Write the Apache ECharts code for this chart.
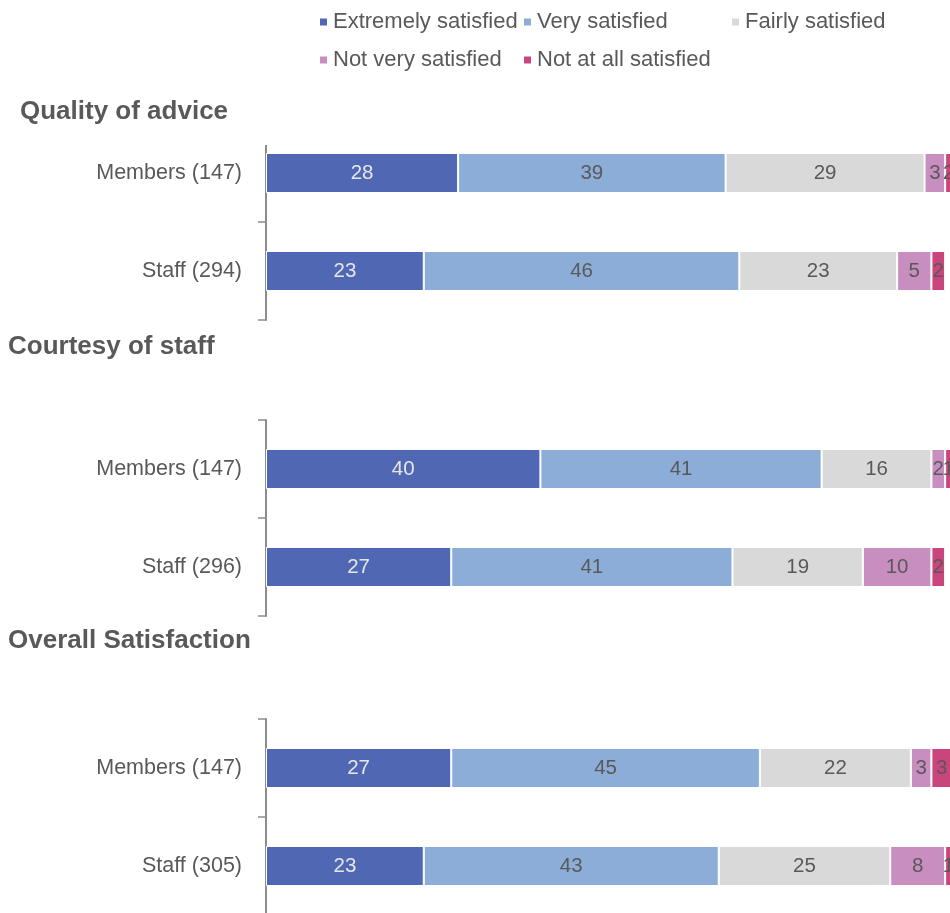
<!DOCTYPE html>
<html>
<head>
<meta charset="utf-8">
<script src="https://cdn.jsdelivr.net/npm/echarts@6/dist/echarts.min.js"></script>
<style>html,body{margin:0;padding:0;background:#fff;}#c{width:950px;height:913px;}</style>
</head>
<body>
<div id="c"></div>
<script>
const levels = ['Extremely satisfied','Very satisfied','Fairly satisfied','Not very satisfied','Not at all satisfied'];
const colors = ['#5068b4','#8dadd9','#d9d9d9','#c98ec0','#c9457c'];
const sections = ['Quality of advice','Courtesy of staff','Overall Satisfaction'];
const groupsQuality = ['Members (147)','Staff (294)'];
const groupsCourtesy = ['Members (147)','Staff (296)'];
const groupsOverall = ['Members (147)','Staff (305)'];
// values per level: [Members, Staff]
const quality = [[28,23],[39,46],[29,23],[3,5],[2,2]];
const courtesy = [[40,27],[41,41],[16,19],[2,10],[1,2]];
const overall = [[27,23],[45,43],[22,25],[3,8],[3,1]];

const FONT = 'Liberation Sans, Arial, sans-serif';
const gridTops = [124, 420, 719];
const groups = [groupsQuality, groupsCourtesy, groupsOverall];
const vals = [quality, courtesy, overall];

const grid = gridTops.map(t => ({left:266, width:686, top:t, height:196, outerBoundsMode:'none', containLabel:false}));
const xAxis = gridTops.map((t,i) => ({type:'value', gridIndex:i, min:0, max:100, show:false}));
const yAxis = gridTops.map((t,i) => ({
  type:'category', gridIndex:i, inverse:true, data:groups[i],
  axisLine:{show:true, lineStyle:{color:'#8c8c8c', width:2}},
  axisTick:{show:true, length:8, lineStyle:{color:'#8c8c8c', width:1.5}},
  axisLabel:{color:'#595959', fontSize:21.5, fontFamily:FONT, margin:24},
  splitLine:{show:false}
}));
const series = [];
vals.forEach((v,gi) => {
  levels.forEach((name,li) => {
    series.push({
      type:'bar', name:name, stack:'s'+gi, xAxisIndex:gi, yAxisIndex:gi,
      data:v[li], barWidth:40,
      itemStyle:{color:colors[li], borderColor:'#fff', borderWidth:1},
      label:{show:true, position:'inside', fontSize:20.5, fontFamily:FONT,
             color: li===0 ? '#e6e6e6' : '#595959'},
      emphasis:{disabled:true}
    });
  });
});
const legendPos = [[318,11],[522,11],[730,11],[318,49],[522,49]];
const legend = levels.map((n,i) => ({
  data:[n], left:legendPos[i][0], top:legendPos[i][1], padding:0,
  itemWidth:9, itemHeight:9, icon:'rect', itemGap:0, selectedMode:false,
  textStyle:{fontSize:22, color:'#595959', fontFamily:FONT}
}));
const titleStyle = {fontSize:26, fontWeight:'bold', color:'#595959', fontFamily:FONT};
const title = [
  {text:sections[0], left:20, top:94, padding:[5,50,20,0], backgroundColor:'#fff', textStyle:titleStyle},
  {text:sections[1], left:8, top:334, padding:0, textStyle:titleStyle},
  {text:sections[2], left:8, top:628, padding:0, textStyle:titleStyle}
];
const chart = echarts.init(document.getElementById('c'), null, {renderer:'canvas'});
chart.setOption({animation:false, backgroundColor:'#fff', title, legend, grid, xAxis, yAxis, series});
</script>
</body>
</html>
